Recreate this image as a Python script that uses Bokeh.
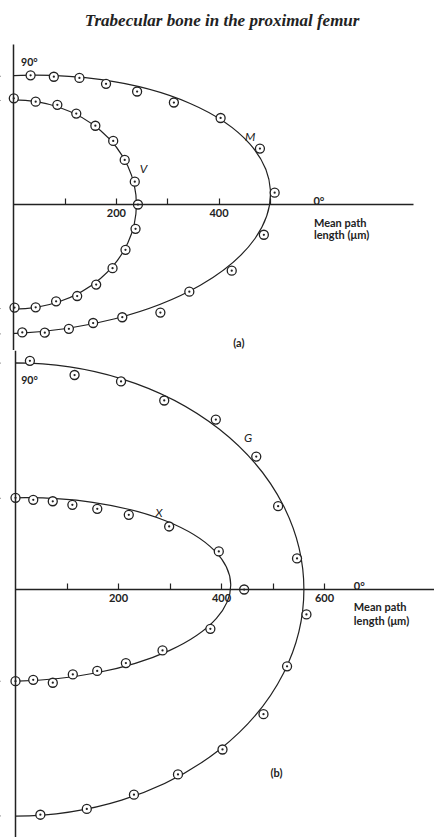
import numpy as np
from bokeh.plotting import figure
from bokeh.models import LinearAxis, FixedTicker, Label, BoxAnnotation, Range1d, ColumnDataSource
from bokeh.layouts import column
from bokeh.embed import file_html
from bokeh.resources import INLINE

# ---------------- data (angle in degrees, mean path length in micrometres) ----------------
V_angle = [90, 78, 66.4, 55.5, 44, 32.6, 21.9, 10.7, 0, -11.3, -22.1, -32.8, -44.2, -55.3, -66.4, -78, -89.6]
V_mpl = [207, 205, 212, 215, 221, 230, 233, 240, 242, 242, 235, 229, 224, 217, 206, 205, 201]

M_angle = [82.6, 72.6, 62.6, 52.6, 42.5, 32.5, 22.7, 12.8, 2.6, -6.9, -16.9, -26.4, -36.4, -46.1, -56.2, -66.1, -76.4, -86.2]
M_mpl = [254, 261, 278, 296, 326, 370, 437, 492, 509, 491, 444, 382, 355, 305, 278, 265, 257, 250]

G_angle = [86.4, 74.6, 63.1, 51.8, 40.3, 28.9, 17.6, 6.3, -4.9, -15.8, -26.7, -37.7, -48.7, -60, -72, -83.7]
G_mpl = [445, 432, 453, 467, 510, 534, 535, 550, 567, 548, 539, 508, 478, 460, 448, 440]

X_angle = [90, 78.8, 67.1, 56.1, 44.6, 33.4, 22.3, 10.6, 0, -11.4, -22.5, -33.7, -44.9, -56, -68.2, -78.9, -90]
X_mpl = [178, 177.5, 186, 198, 223, 263.5, 322.5, 401.6, 444, 386, 309, 257.6, 224, 199, 195, 178.7, 178]

# fitted ellipses: semi-major (along 0 deg), semi-minor (along 90 deg), tilt (deg)
fit_M = (501, 251, 3.2)
fit_V = (239, 204, 0.0)
fit_X = (418, 178, 1.4)
fit_G = (560, 440, 0.0)

ticks_a = [100, 200, 300, 400, 500]
ticks_b = [100, 200, 300, 400, 500, 600]
labelled_ticks = [200, 400, 600]

title_text = "Trabecular bone in the proximal femur"

INK = "#222222"
SANS = "Lato"


def polar_source(angles, mpl):
    th = np.radians(np.array(angles, dtype=float))
    r = np.array(mpl, dtype=float)
    return ColumnDataSource(dict(x=r * np.cos(th), y=r * np.sin(th)))


def make_panel(width, height, ox, oy, scale, top_px, x_axis_end_px, ticks):
    # ox, oy: page position of the polar origin; scale: px per micrometre
    x0 = (0 - ox) / scale
    x1 = (width - ox) / scale
    ytop = (oy - top_px) / scale
    ybot = -(top_px + height - oy) / scale
    p = figure(width=width, height=height, x_range=Range1d(x0, x1), y_range=Range1d(ybot, ytop),
               x_axis_type=None, y_axis_type=None, toolbar_location=None, output_backend="svg",
               min_border=0, outline_line_color=None, background_fill_color="white",
               border_fill_color="white")
    xend = x1 if x_axis_end_px is None else (x_axis_end_px - ox) / scale
    xaxis = LinearAxis(fixed_location=0, ticker=FixedTicker(ticks=ticks),
                       major_label_overrides={t: (str(t) if t in labelled_ticks else "") for t in ticks},
                       bounds=(0, xend), major_tick_in=6, major_tick_out=0,
                       minor_tick_line_color=None, axis_line_width=1.5, axis_line_color=INK,
                       major_tick_line_color=INK, major_tick_line_width=1.2,
                       major_label_text_font=SANS, major_label_text_font_size="11px",
                       major_label_text_font_style="bold",
                       major_label_text_color=INK, major_label_standoff=4)
    p.add_layout(xaxis, "below")
    return p, ybot, ytop


def add_yaxis(p, lo, hi):
    yaxis = LinearAxis(fixed_location=0, ticker=FixedTicker(ticks=[]), bounds=(lo, hi),
                       major_tick_line_color=None, minor_tick_line_color=None,
                       major_label_text_font_size="0px", axis_line_width=1.5, axis_line_color=INK)
    p.add_layout(yaxis, "left")


def add_fit(p, fit):
    a, b, tilt = fit
    r = p.ellipse(x=[0], y=[0], width=[2 * a], height=[2 * b], angle=[np.radians(tilt)],
                  fill_color=None, line_color=INK, line_width=1.2)
    r.level = "image"


def add_points(p, src):
    p.scatter("x", "y", source=src, marker="circle_dot", size=9, fill_color="white",
              line_color=INK, line_width=1.3)


def add_text(p, x, y, text, size="11px", align="left", baseline="alphabetic", style="bold",
             font=SANS):
    p.add_layout(Label(x=x, y=y, text=text, text_font=font, text_font_size=size,
                       text_align=align, text_baseline=baseline, text_font_style=style,
                       text_color=INK))


# white masks hide the left halves of the fitted ellipses (x < 0)
mask_a = BoxAnnotation(right=0, fill_color="white", fill_alpha=1, line_color=None, level="underlay")
mask_b = BoxAnnotation(right=0, fill_color="white", fill_alpha=1, line_color=None, level="underlay")

# ---------------- panel (a) ----------------
pa, ybot_a, ytop_a = make_panel(434, 350, 13.3, 204, 0.513, 0, 413, ticks_a)
add_yaxis(pa, ybot_a, 311)
add_fit(pa, fit_M)
add_fit(pa, fit_V)
pa.add_layout(mask_a)
add_points(pa, polar_source(M_angle, M_mpl))
add_points(pa, polar_source(V_angle, V_mpl))
add_text(pa, 406, 359.6, title_text, size="17px", align="center", style="bold italic",
         font="Liberation Serif")
add_text(pa, 14.2, 277.8, "90°", size="10.5px")
add_text(pa, 461, 133, "M", size="12px", align="center", style="italic")
add_text(pa, 253, 69.6, "V", size="12px", align="center", style="italic")
add_text(pa, 584, 7.8, "0°")
add_text(pa, 585, -34.5, "Mean path")
add_text(pa, 585, -58.5, "length (μm)")
add_text(pa, 438.6, -268.4, "(a)", align="center", baseline="middle")

# ---------------- panel (b) ----------------
pb, ybot_b, ytop_b = make_panel(434, 487, 15, 589, 0.515, 350, None, ticks_b)
add_yaxis(pb, ybot_b, ytop_b)
add_fit(pb, fit_G)
add_fit(pb, fit_X)
pb.add_layout(mask_b)
add_points(pb, polar_source(G_angle, G_mpl))
add_points(pb, polar_source(X_angle, X_mpl))
add_text(pb, 11.1, 407.2, "90°", size="10.5px")
add_text(pb, 451.5, 295, "G", size="12px", align="center", style="italic")
add_text(pb, 278.6, 150, "X", size="12px", align="center", style="italic")
add_text(pb, 657, 7.8, "0°")
add_text(pb, 657, -33, "Mean path")
add_text(pb, 657, -60.2, "length (μm)")
add_text(pb, 506.8, -355.3, "(b)", align="center", baseline="middle")

layout = column(pa, pb, spacing=0)
open("out.html", "w").write(file_html(layout, INLINE))
